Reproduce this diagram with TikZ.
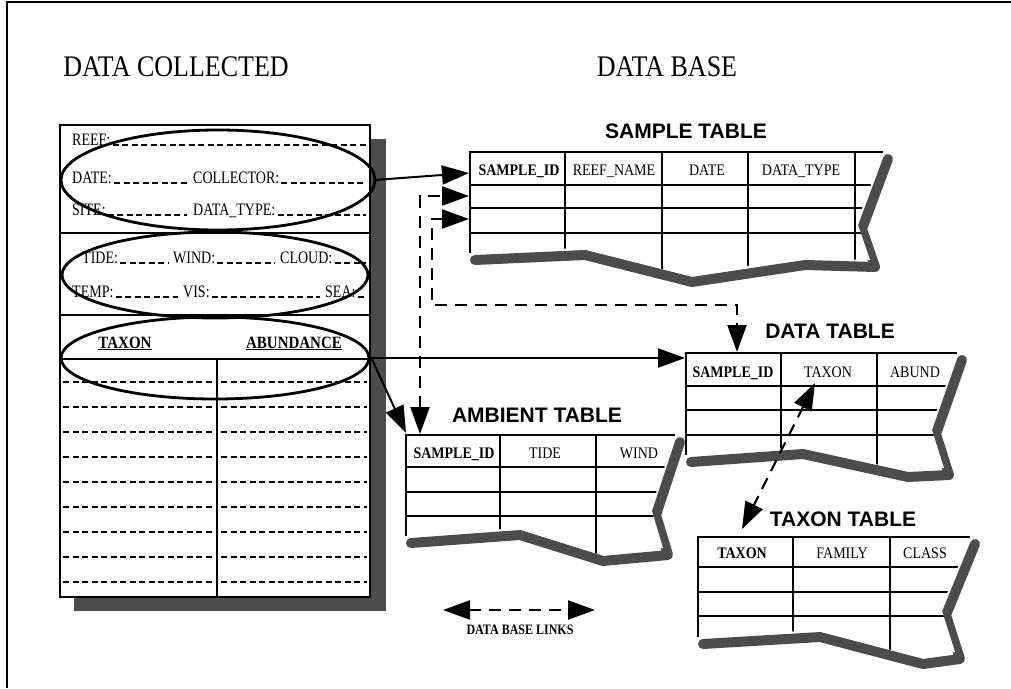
\documentclass[tikz,border=0pt]{standalone}
\usepackage{fontspec}
\setmainfont{Liberation Serif}
\newfontfamily\hsans{Liberation Sans}
\usetikzlibrary{arrows.meta,shapes.geometric}
\definecolor{shadowc}{gray}{0.3}
\newcommand{\vsc}[1]{\scalebox{1}[1.25]{#1}}
\newcommand{\vsh}[1]{\scalebox{1}[1.15]{#1}}
\tikzset{
  lbl/.style={inner sep=0pt, anchor=base west, font=\fontsize{14}{16}\selectfont},
  hdr/.style={inner sep=0pt, anchor=base, font=\fontsize{14}{16}\selectfont},
  hdrb/.style={inner sep=0pt, anchor=base, font=\fontsize{14}{16}\selectfont\bfseries},
  ttl/.style={inner sep=0pt, anchor=base, font=\fontsize{21}{24}\selectfont\hsans\bfseries},
  bigttl/.style={inner sep=0pt, anchor=base, font=\fontsize{26}{30}\selectfont},
  fillline/.style={line width=1.6pt, dash pattern=on 6pt off 3.5pt},
  bordr/.style={line width=2.6pt},
  gridline/.style={line width=2.2pt},
  rowline/.style={line width=1.5pt},
  shadowline/.style={draw=shadowc, line width=10pt, line join=round, line cap=round},
  oval/.style={draw, ellipse, line width=2.8pt, inner sep=0pt},
  arr/.style={line width=2pt, -{Triangle[length=27pt,width=19pt]}},
  link/.style={line width=2.2pt, dash pattern=on 12pt off 8pt,
    {Triangle[length=27pt,width=19pt]}-{Triangle[length=27pt,width=19pt]}},
}
\begin{document}
\begin{tikzpicture}[x=1pt,y=-1pt]
\useasboundingbox (0,0) rectangle (1011,688);
% frame
\draw[line width=1.3pt] (7,688) -- (7,2) -- (1011,2);

% titles
\node[bigttl] (tcol) at (176,76) {\vsh{DATA COLLECTED}};
\node[bigttl] (tbase) at (667,76) {\vsh{DATA BASE}};

% ---------------- form -----------------
\fill[shadowc] (74,139) rectangle (386,611);
\draw[bordr, fill=white] (60,125) rectangle (370,597);
\draw[bordr] (60,233) -- (370,233);
\draw[bordr] (60,315) -- (370,315);
\draw[bordr] (60,359) -- (370,359);
\draw[bordr] (217,359) -- (217,597);

\node[lbl] (reef) at (72,145) {\vsc{REEF:}};
\node[lbl] (date) at (72,183) {\vsc{DATE:}};
\node[lbl] (coll) at (193,183) {\vsc{COLLECTOR:}};
\node[lbl] (site) at (72,215) {\vsc{SITE:}};
\node[lbl] (dtyp) at (193,215) {\vsc{DATA\_TYPE:}};
\node[lbl] (tide) at (82,263) {\vsc{TIDE:}};
\node[lbl] (wind) at (173,263) {\vsc{WIND:}};
\node[lbl] (cloud) at (280,263) {\vsc{CLOUD:}};
\node[lbl] (temp) at (72,297) {\vsc{TEMP:}};
\node[lbl] (vis) at (183,297) {\vsc{VIS:}};
\node[lbl] (sea) at (325,297) {\vsc{SEA:}};

\draw[fillline] ([xshift=2pt]reef.base east) -- (366,145);
\draw[fillline] ([xshift=2pt]date.base east) -- ([xshift=-6pt]coll.base west);
\draw[fillline] ([xshift=2pt]coll.base east) -- (366,183);
\draw[fillline] ([xshift=2pt]site.base east) -- ([xshift=-6pt]dtyp.base west);
\draw[fillline] ([xshift=2pt]dtyp.base east) -- (366,215);
\draw[fillline] ([xshift=2pt]tide.base east) -- ([xshift=-5pt]wind.base west);
\draw[fillline] ([xshift=2pt]wind.base east) -- ([xshift=-5pt]cloud.base west);
\draw[fillline] ([xshift=2pt]cloud.base east) -- (366,263);
\draw[fillline] ([xshift=2pt]temp.base east) -- ([xshift=-5pt]vis.base west);
\draw[fillline] ([xshift=2pt]vis.base east) -- ([xshift=-5pt]sea.base west);
\draw[fillline] ([xshift=2pt]sea.base east) -- (366,297);

\node[hdrb, font=\fontsize{15}{17}\selectfont\bfseries] (ftax) at (125,348) {\underline{\vsh{TAXON}}};
\node[hdrb, font=\fontsize{15}{17}\selectfont\bfseries] (fabu) at (294,348) {\underline{\vsh{ABUNDANCE}}};

\foreach \yy in {382,407,432,457,482,507,532,557,582}{
  \draw[fillline] (63,\yy) -- (213,\yy);
  \draw[fillline] (221,\yy) -- (367,\yy);
}

\node[oval, minimum width=314pt, minimum height=100pt] (ov1) at (218,180) {};
\node[oval, minimum width=306pt, minimum height=86pt] (ov2) at (215,275) {};
\node[oval, minimum width=308pt, minimum height=82pt] (ov3) at (215,358) {};

% ---------------- SAMPLE TABLE -----------------
\node[ttl] (tsample) at (686,138) {SAMPLE TABLE};
\draw[shadowline, shift={(5,7)}] (883,152) -- (857,222) -- (870,260) -- (800,258) -- (687,275) -- (580,248) -- (470,253);
\fill[white] (470,152) -- (883,152) -- (857,222) -- (870,260) -- (800,258) -- (687,275) -- (580,248) -- (470,253) -- cycle;
\begin{scope}
\clip (470,152) -- (883,152) -- (857,222) -- (870,260) -- (800,258) -- (687,275) -- (580,248) -- (470,253) -- cycle;
\draw[gridline] (470,185) -- (900,185);
\draw[rowline] (470,208) -- (900,208);
\draw[rowline] (470,233) -- (900,233);
\foreach \xx in {565,662,748,855} \draw[gridline] (\xx,152) -- (\xx,300);
\end{scope}
\draw[bordr] (470,253) -- (470,152) -- (883,152);
\node[hdrb] (sid) at (519,175) {\vsh{SAMPLE\_ID}};
\node[hdr] (sreef) at (614,175) {\vsh{REEF\_NAME}};
\node[hdr] (sdate) at (707,175) {\vsh{DATE}};
\node[hdr] (stype) at (801,175) {\vsh{DATA\_TYPE}};
\coordinate (sr1) at (469,173);
\coordinate (sr2) at (469,196);
\coordinate (sr3) at (469,219);

% ---------------- DATA TABLE -----------------
\node[ttl] (tdata) at (830,338) {DATA TABLE};
\draw[shadowline, shift={(5,7)}] (957,353) -- (931,427) -- (944,468) -- (903,470) -- (798,447) -- (686,455);
\fill[white] (686,353) -- (957,353) -- (931,427) -- (944,468) -- (903,470) -- (798,447) -- (686,455) -- cycle;
\begin{scope}
\clip (686,353) -- (957,353) -- (931,427) -- (944,468) -- (903,470) -- (798,447) -- (686,455) -- cycle;
\draw[gridline] (686,386) -- (970,386);
\draw[rowline] (686,410) -- (970,410);
\draw[rowline] (686,435) -- (970,435);
\foreach \xx in {781,877} \draw[gridline] (\xx,353) -- (\xx,500);
\end{scope}
\draw[bordr] (686,455) -- (686,353) -- (957,353);
\node[hdrb] (did) at (733,377) {\vsh{SAMPLE\_ID}};
\node[hdr] (dtax) at (828,377) {\vsh{TAXON}};
\node[hdr] (dabu) at (915,377) {\vsh{ABUND}};
\coordinate (dtop) at (737,352);
\coordinate (dleft) at (685,358);
\coordinate (dtaxlink) at (815,383);

% ---------------- AMBIENT TABLE -----------------
\node[ttl] (tamb) at (537,422) {AMBIENT TABLE};
\draw[shadowline, shift={(5,7)}] (675,435) -- (651,508) -- (663,548) -- (598,554) -- (515,528) -- (406,536);
\fill[white] (406,435) -- (675,435) -- (651,508) -- (663,548) -- (598,554) -- (515,528) -- (406,536) -- cycle;
\begin{scope}
\clip (406,435) -- (675,435) -- (651,508) -- (663,548) -- (598,554) -- (515,528) -- (406,536) -- cycle;
\draw[gridline] (406,467) -- (690,467);
\draw[rowline] (406,492) -- (690,492);
\draw[rowline] (406,516) -- (690,516);
\foreach \xx in {500,596} \draw[gridline] (\xx,435) -- (\xx,580);
\end{scope}
\draw[bordr] (406,536) -- (406,435) -- (675,435);
\node[hdrb] (aid) at (454,458) {\vsh{SAMPLE\_ID}};
\node[hdr] (atide) at (545,458) {\vsh{TIDE}};
\node[hdr] (awind) at (639,458) {\vsh{WIND}};
\coordinate (atop) at (420,434);
\coordinate (acorner) at (406,433);

% ---------------- TAXON TABLE -----------------
\node[ttl] (ttax) at (843,526) {TAXON TABLE};
\draw[shadowline, shift={(5,7)}] (970,537) -- (941,608) -- (955,652) -- (918,657) -- (815,630) -- (698,637);
\fill[white] (698,537) -- (970,537) -- (941,608) -- (955,652) -- (918,657) -- (815,630) -- (698,637) -- cycle;
\begin{scope}
\clip (698,537) -- (970,537) -- (941,608) -- (955,652) -- (918,657) -- (815,630) -- (698,637) -- cycle;
\draw[gridline] (698,567) -- (980,567);
\draw[rowline] (698,592) -- (980,592);
\draw[rowline] (698,616) -- (980,616);
\foreach \xx in {793,890} \draw[gridline] (\xx,537) -- (\xx,680);
\end{scope}
\draw[bordr] (698,637) -- (698,537) -- (970,537);
\node[hdrb] (tid) at (742,558) {\vsh{TAXON}};
\node[hdr] (tfam) at (842,558) {\vsh{FAMILY}};
\node[hdr] (tcls) at (925,558) {\vsh{CLASS}};
\coordinate (ttop) at (742,529);

% ---------------- connectors -----------------
\draw[arr] ([xshift=-2pt]ov1.east) -- (sr1);
\draw[arr] ([xshift=1pt]ov3.east) -- (dleft);
\draw[arr] ([xshift=1pt]ov3.east) -- (acorner);
\draw[link] (atop) |- (sr2);
\draw[link] (sr3) -| (432,305) -| (dtop);
\draw[link] (dtaxlink) -- (ttop);

% legend
\coordinate (lgl) at (443,610);
\coordinate (lgr) at (595,610);
\draw[link] (lgl) -- (lgr);
\node[inner sep=0pt, anchor=base, font=\fontsize{12}{14}\selectfont\bfseries] (lgtxt) at (520,634) {\scalebox{1}[1.2]{DATA BASE LINKS}};
\end{tikzpicture}
\end{document}
